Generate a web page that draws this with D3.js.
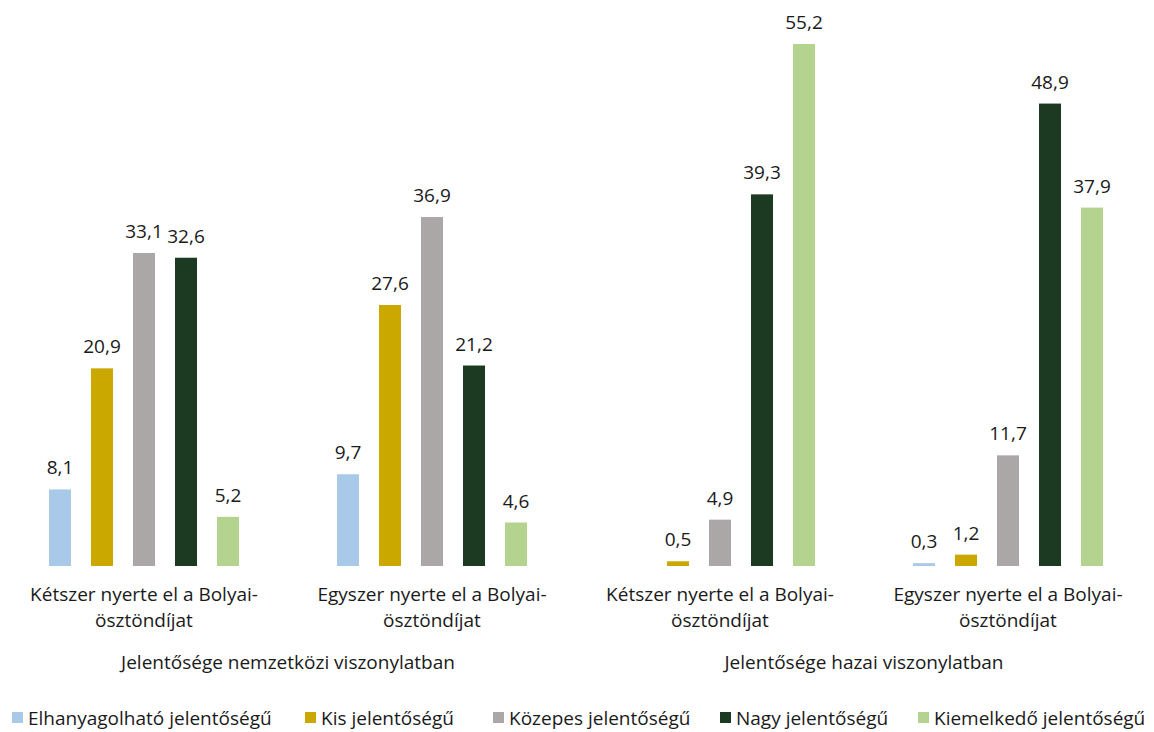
<!DOCTYPE html>
<html><head><meta charset="utf-8">
<script src="https://cdn.jsdelivr.net/npm/d3@7"></script>
<style>
html,body{margin:0;padding:0;background:#fff;}
text{font-family:"Open Sans",Lato,sans-serif;fill:#1a1a1a;}
</style></head>
<body><svg id="c" width="1154" height="732"></svg>
<script>
const categories = ["K1","E1","K2","E2"];
const categoryLines = [
  ["Kétszer nyerte el a Bolyai-","ösztöndíjat"],
  ["Egyszer nyerte el a Bolyai-","ösztöndíjat"],
  ["Kétszer nyerte el a Bolyai-","ösztöndíjat"],
  ["Egyszer nyerte el a Bolyai-","ösztöndíjat"]
];
const groupLabels = ["Jelentősége nemzetközi viszonylatban","Jelentősége hazai viszonylatban"];
const seriesNames = ["Elhanyagolható jelentőségű","Kis jelentőségű","Közepes jelentőségű","Nagy jelentőségű","Kiemelkedő jelentőségű"];
const seriesColors = ["#a9c9e9","#cba800","#aaa7a6","#1c3a21","#b3d38e"];
const elhanyagolhato = [8.1, 9.7, null, 0.3];
const kis = [20.9, 27.6, 0.5, 1.2];
const kozepes = [33.1, 36.9, 4.9, 11.7];
const nagy = [32.6, 21.2, 39.3, 48.9];
const kiemelkedo = [5.2, 4.6, 55.2, 37.9];
const seriesValues = [elhanyagolhato, kis, kozepes, nagy, kiemelkedo];

const svg = d3.select("#c");
const baseY = 566;
const fs = 19;
const y = d3.scaleLinear().domain([0, 55.2]).range([baseY, 44]);
const x0 = d3.scaleBand().domain(categories).range([0, 1152]).paddingInner(0).paddingOuter(0);
const x1 = d3.scaleBand().domain(seriesNames).range([0, 190]).paddingInner(20/42).paddingOuter(0);
const fmt = v => String(v).replace(".", ",");

const g = svg.append("g");
categories.forEach((c, ci) => {
  const gx = x0(c) + x0.bandwidth()/2 - 95;
  seriesNames.forEach((s, si) => {
    const v = seriesValues[si][ci];
    if (v == null) return;
    const bx = gx + x1(s);
    g.append("rect").attr("x", bx).attr("y", y(v)).attr("width", x1.bandwidth())
      .attr("height", baseY - y(v)).attr("fill", seriesColors[si]);
    g.append("text").attr("x", bx + x1.bandwidth()/2).attr("y", y(v) - 15)
      .attr("text-anchor", "middle").attr("font-size", fs).text(fmt(v));
  });
  const cx = x0(c) + x0.bandwidth()/2;
  categoryLines[ci].forEach((line, li) => {
    g.append("text").attr("x", cx).attr("y", 601 + li*26).attr("text-anchor", "middle")
      .attr("font-size", fs).text(line);
  });
});
groupLabels.forEach((gl, i) => {
  const cx = (x0(categories[i*2]) + x0(categories[i*2+1]) + x0.bandwidth())/2;
  g.append("text").attr("x", cx).attr("y", 669).attr("text-anchor", "middle")
    .attr("font-size", fs).text(gl);
});
const legendX = [12, 305, 493, 720, 918];
seriesNames.forEach((s, i) => {
  g.append("rect").attr("x", legendX[i]).attr("y", 712).attr("width", 11).attr("height", 11).attr("fill", seriesColors[i]);
  g.append("text").attr("x", legendX[i] + 16).attr("y", 725).attr("font-size", fs).text(s);
});
</script></body></html>
